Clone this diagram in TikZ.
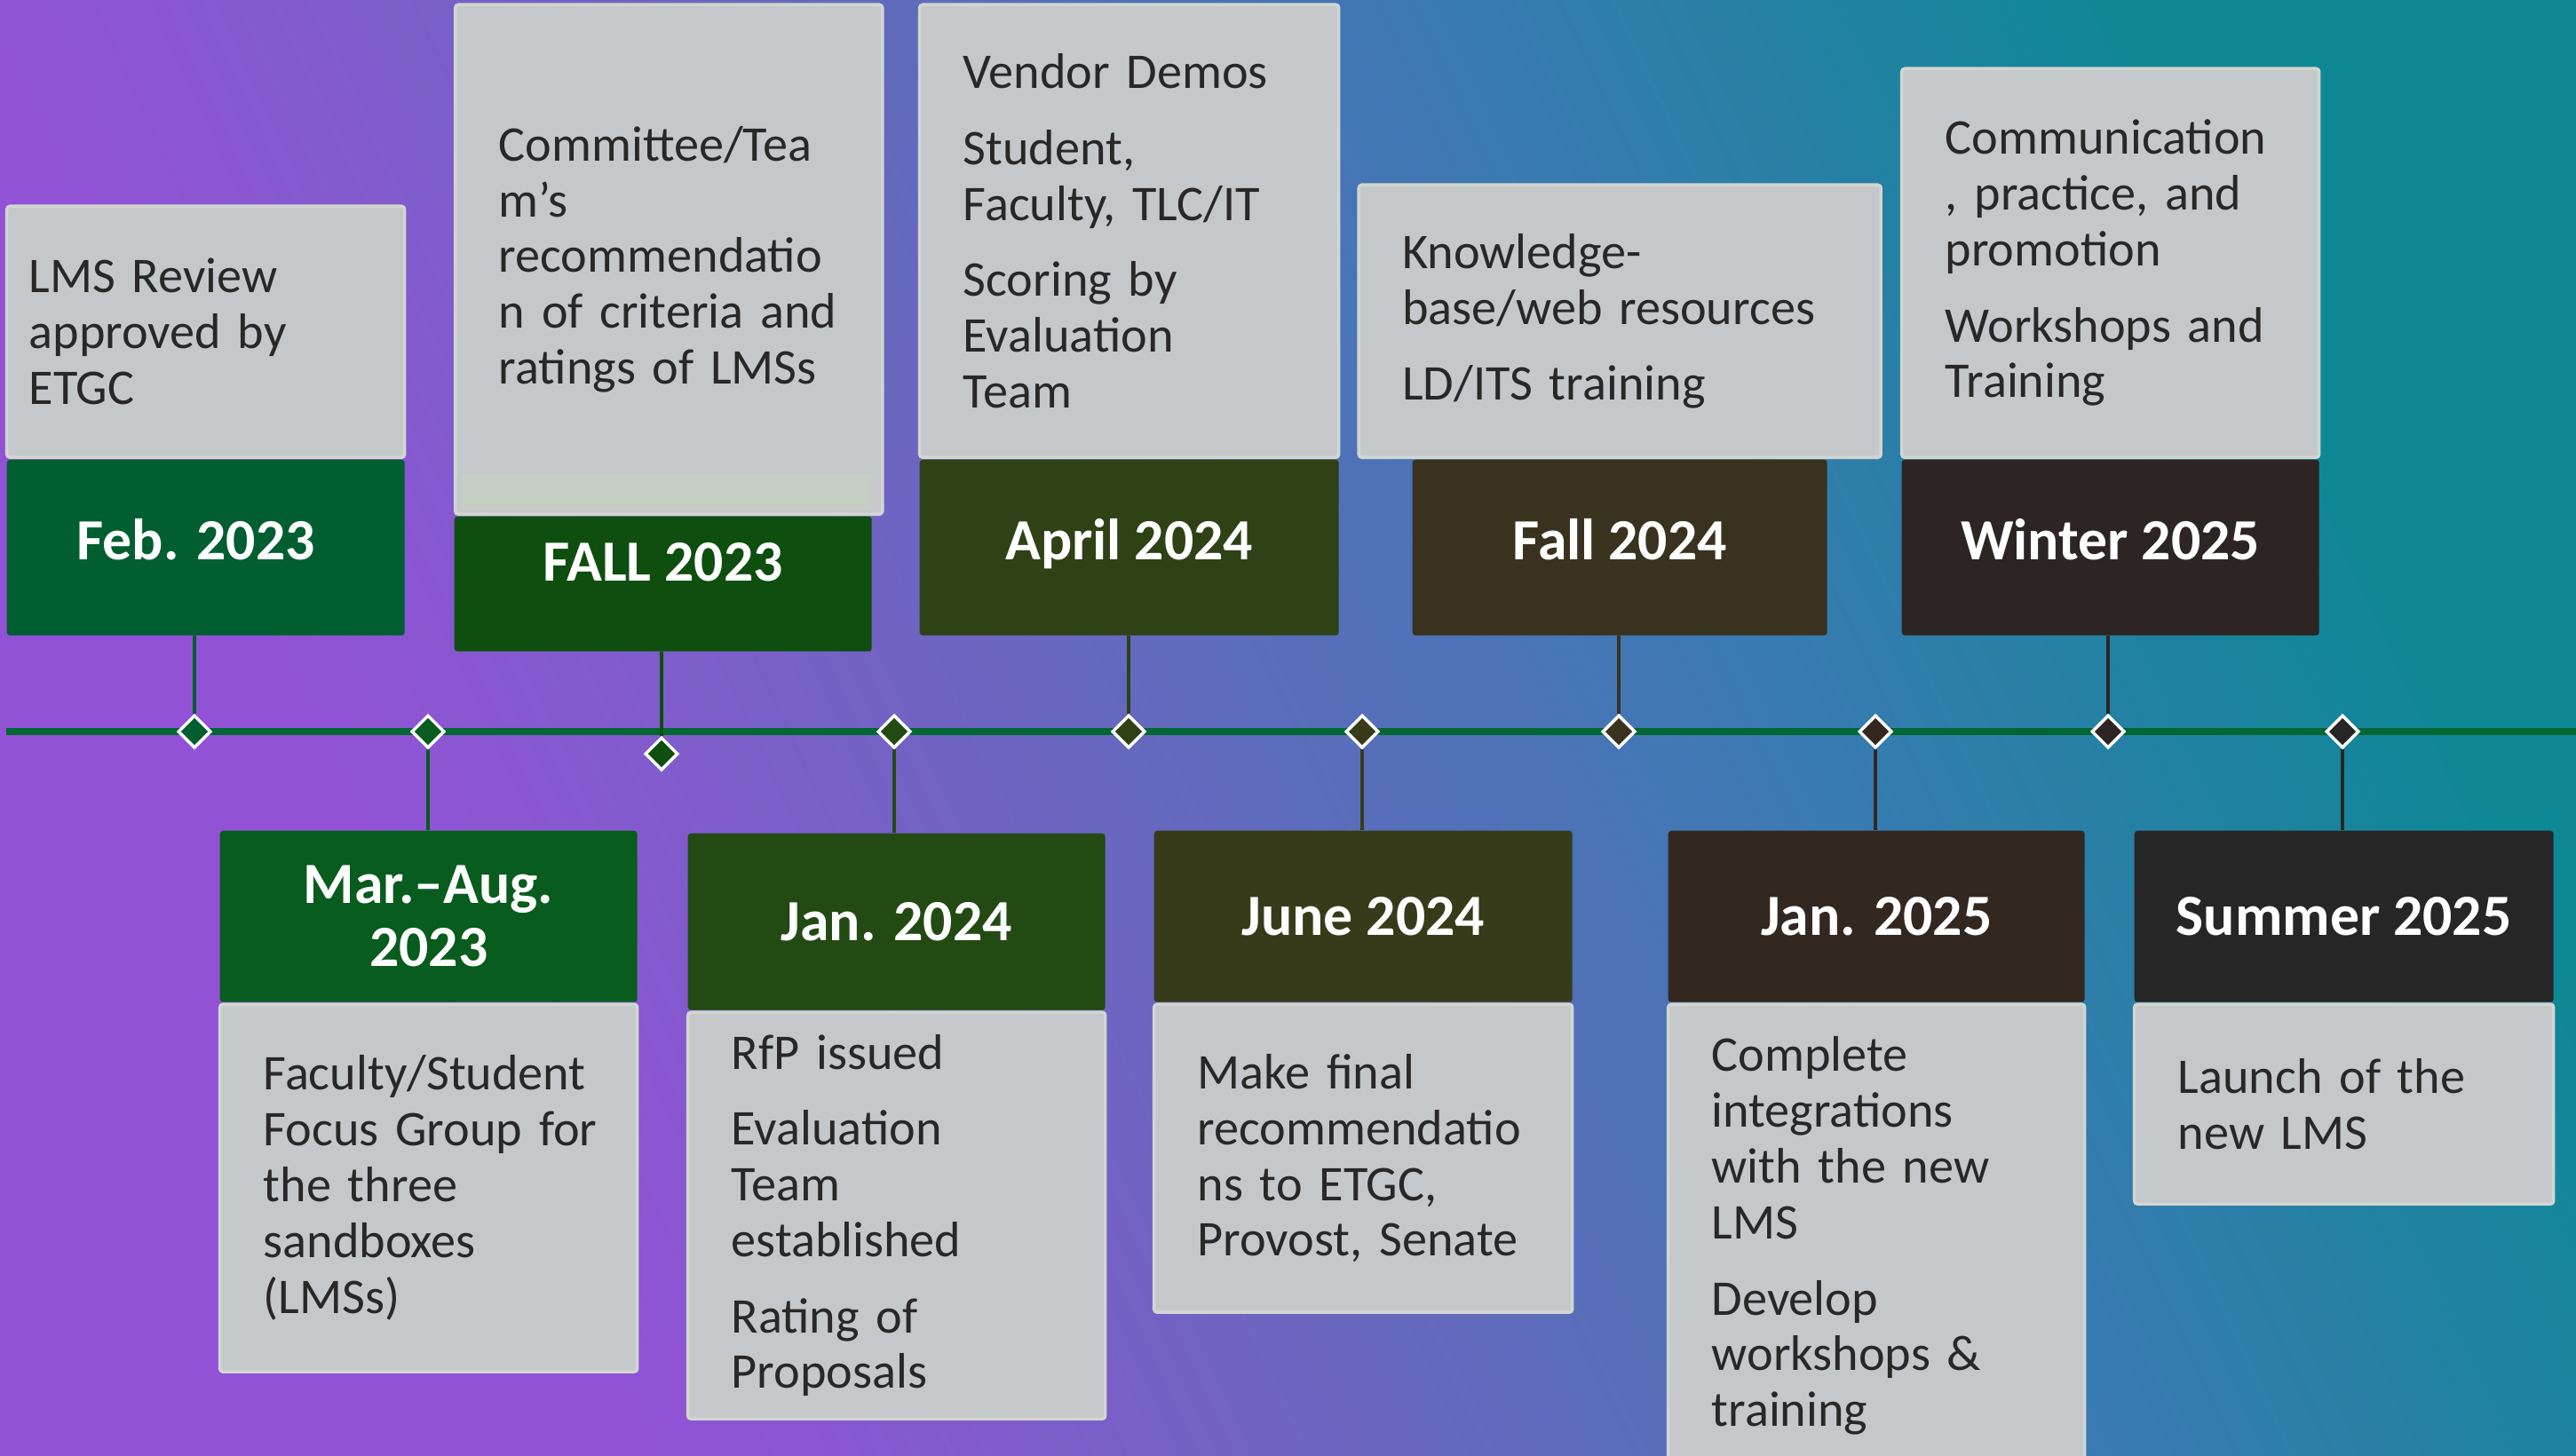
\documentclass[tikz,border=0pt]{standalone}
\usepackage{fontspec}
\setmainfont{Carlito}
\usepackage{xcolor}
\usepackage{tikz}
\usetikzlibrary{positioning,shapes.geometric}
\definecolor{bgA}{RGB}{146,82,214}
\definecolor{bgB}{RGB}{104,104,190}
\definecolor{bgC}{RGB}{58,122,178}
\definecolor{bgD}{RGB}{14,136,149}
\definecolor{tlgreen}{RGB}{0,102,51}
\definecolor{note}{RGB}{197,200,203}
\definecolor{noteedge}{RGB}{210,214,208}
\definecolor{band}{RGB}{196,206,194}
\definecolor{ink}{RGB}{40,40,40}
\definecolor{c1}{RGB}{0,94,48}
\definecolor{c2}{RGB}{8,92,30}
\definecolor{c3}{RGB}{14,78,14}
\definecolor{c4}{RGB}{35,74,18}
\definecolor{c5}{RGB}{46,66,22}
\definecolor{c6}{RGB}{56,59,26}
\definecolor{c7}{RGB}{56,50,30}
\definecolor{c8}{RGB}{50,40,32}
\definecolor{c9}{RGB}{44,37,35}
\definecolor{c10}{RGB}{38,38,38}
\pgfdeclarehorizontalshading{bgshade}{100bp}{color(0bp)=(bgA); color(30bp)=(bgA); color(46bp)=(bgB); color(60bp)=(bgC); color(74bp)=(bgD); color(100bp)=(bgD)}

\begin{document}
\begin{tikzpicture}[y=-1cm,
	datebox/.style={fill=#1, text=white, font=\fontsize{18.7}{20.3}\selectfont\bfseries, align=center, inner sep=0pt, rounded corners=1pt, minimum width=4.7cm, minimum height=1.98cm, anchor=north west},
	topdate/.style={datebox=#1, text height=12pt, text depth=4pt},
	notebox/.style={fill=note, draw=noteedge, line width=1pt, text=ink, font=\fontsize{16}{17.9}\selectfont, align=left, inner xsep=0.25cm, inner ysep=0pt, text width=#1-0.5cm, execute at begin node={\leftskip=0.24cm}, rounded corners=1pt},
	notebox/.default=4.7cm,
	gem/.style={diamond, draw=white, line width=1pt, fill=#1, minimum size=0.37cm, inner sep=0pt},
	link/.style={draw=#1, line width=1.4pt}]
	\shade[shading=bgshade, shading angle=25] (0,0) rectangle (29.01,16.39);
	\useasboundingbox (0,0) rectangle (29.01,16.39);
	\coordinate (tl0) at (0.07,8.24);
	\coordinate (tl1) at (29.01,8.24);
	\draw[tlgreen, line width=0.08cm] (tl0) -- (tl1);

	\node[gem=c1] (k1) at (2.19,8.24) {};
	\node[gem=c2] (k2) at (4.82,8.24) {};
	\node[gem=c3] (k3) at (7.45,8.49) {};
	\node[gem=c4] (k4) at (10.07,8.24) {};
	\node[gem=c5] (k5) at (12.71,8.24) {};
	\node[gem=c6] (k6) at (15.34,8.24) {};
	\node[gem=c7] (k7) at (18.23,8.24) {};
	\node[gem=c8] (k8) at (21.12,8.24) {};
	\node[gem=c9] (k9) at (23.74,8.24) {};
	\node[gem=c10] (k10) at (26.38,8.24) {};

	\node[topdate=c1, minimum width=4.48cm] (d1) at (0.07,5.17) {\hspace*{-0.22cm}Feb. 2023};
	\node[topdate=c3, minimum height=1.52cm, text depth=13.6pt] (d3) at (5.11,5.81) {FALL 2023};
	\node[topdate=c5, minimum width=4.72cm] (d5) at (10.35,5.17) {April 2024};
	\node[topdate=c7, minimum width=4.67cm] (d7) at (15.90,5.17) {Fall 2024};
	\node[topdate=c9] (d9) at (21.41,5.17) {Winter 2025};
	\node[datebox=c2, minimum height=1.93cm] (d2) at (2.47,9.35) {Mar.--Aug.\\2023};
	\node[datebox=c4, minimum height=1.99cm] (d4) at (7.74,9.38) {Jan. 2024};
	\node[datebox=c6, minimum width=4.71cm, minimum height=1.93cm] (d6) at (12.99,9.35) {June 2024};
	\node[datebox=c8, minimum width=4.69cm, minimum height=1.93cm] (d8) at (18.78,9.35) {Jan. 2025};
	\node[datebox=c10, minimum width=4.72cm, minimum height=1.93cm] (d10) at (24.03,9.35) {Summer 2025};

	\node[notebox=4.48cm, above=0pt of d1, execute at begin node={\leftskip=0pt}, minimum height=2.83cm] (n1) {LMS Review\\approved by\\ETGC};
	\node[notebox=4.81cm, anchor=south west, minimum height=5.74cm] (n3) at (d3.north west) {Committee/Tea\\m's\\recommendatio\\n of criteria and\\ratings of LMSs};
	\fill[band] (5.20,5.35) rectangle (9.81,5.74);
	\node[notebox=4.72cm, above=0pt of d5, minimum height=5.10cm] (n5) {Vendor Demos\\[6.4pt]Student,\\Faculty, TLC/IT\\[6.4pt]Scoring by\\Evaluation\\Team};
	\node[notebox=5.88cm, above=0pt of d7, minimum height=3.07cm] (n7) {Knowledge-\\base/web resources\\[6.4pt]LD/ITS training};
	\node[notebox, above=0pt of d9, minimum height=4.38cm] (n9) {Communication\\, practice, and\\promotion\\[6.4pt]Workshops and\\Training};
	\node[notebox, below=0pt of d2, minimum height=4.14cm] (n2) {Faculty/Student\\Focus Group for\\the three\\sandboxes\\(LMSs)};
	\node[notebox, below=0pt of d4, minimum height=4.58cm] (n4) {RfP issued\\[6.4pt]Evaluation\\Team\\established\\[6.4pt]Rating of\\Proposals};
	\node[notebox=4.71cm, below=0pt of d6, minimum height=3.47cm] (n6) {Make final\\recommendatio\\ns to ETGC,\\Provost, Senate};
	\node[notebox=4.69cm, below=0pt of d8, minimum height=5.22cm] (n8) {Complete\\integrations\\with the new\\LMS\\[6.4pt]Develop\\workshops \&\\training};
	\node[notebox=4.72cm, below=0pt of d10, minimum height=2.25cm] (n10) {Launch of the\\new LMS};

	\draw[link=c1] (d1.south -| k1) -- (k1);
	\draw[link=c3] (d3.south -| k3) -- (k3);
	\draw[link=c5] (d5.south -| k5) -- (k5);
	\draw[link=c7] (d7.south -| k7) -- (k7);
	\draw[link=c9] (d9.south -| k9) -- (k9);
	\draw[link=c2] (k2) -- (d2.north -| k2);
	\draw[link=c4] (k4) -- (d4.north -| k4);
	\draw[link=c6] (k6) -- (d6.north -| k6);
	\draw[link=c8] (k8) -- (d8.north -| k8);
	\draw[link=c10] (k10) -- (d10.north -| k10);
\end{tikzpicture}
\end{document}
